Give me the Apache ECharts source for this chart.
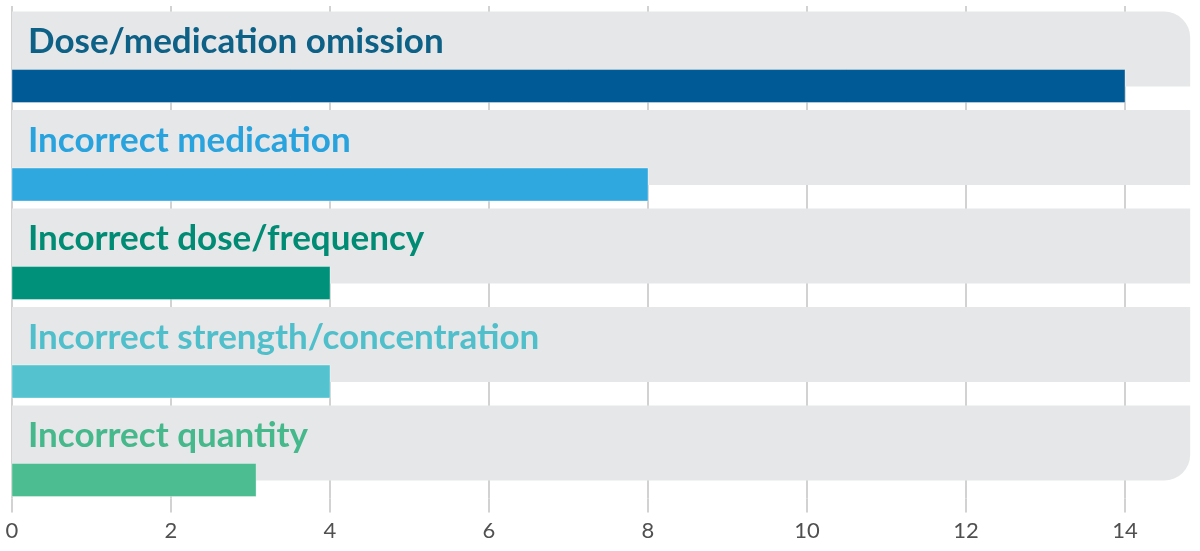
<!DOCTYPE html>
<html>
<head>
    <meta charset="UTF-8">
    <title>Medication error types</title>
</head>
<style>
    html,body{margin:0;padding:0;background:#fff;}
    #chart{width:1200px;height:551px;}
</style>
<body>
<div id="chart"></div>
<script type="text/javascript" src="https://cdn.jsdelivr.net/npm/echarts@6/dist/echarts.min.js"></script>
<script>
    // data
    var categories = ['Dose/medication omission', 'Incorrect medication', 'Incorrect dose/frequency',
        'Incorrect strength/concentration', 'Incorrect quantity'];
    var values = [14, 8, 4, 4, 3.07];
    var barColors = ['#005a96', '#2fa8e0', '#00917a', '#54c3cf', '#4cbc91'];
    var labelColors = ['#0d6086', '#29a3dd', '#008b74', '#4fbfcb', '#45b88c'];
    var tickValues = [0, 2, 4, 6, 8, 10, 12, 14];

    var panelEnd = 14.82;   // where the grey bands stop on the x scale

    var draw = echarts.init(document.getElementById('chart'));

    function renderPanel(params, api) {
        var i = api.value(1);
        var c0 = api.coord([0, i]);
        var c1 = api.coord([panelEnd, i]);
        var band = api.size([0, 1])[1];
        var top = c0[1] - band / 2;
        var r = [0, 0, 0, 0];
        if (i === 0) r = [0, 26, 0, 0];
        if (i === categories.length - 1) r = [0, 0, 26, 0];
        return {
            type: 'group',
            children: [{
                type: 'rect',
                shape: {x: c0[0], y: top + band * 0.056, width: c1[0] - c0[0], height: band * 0.762, r: r},
                style: {fill: '#e6e7e8'}
            }, {
                type: 'text',
                style: {
                    x: c0[0] + 16, y: top + band * 0.365,
                    text: categories[i],
                    fill: labelColors[i],
                    font: 'bold 35px Lato',
                    verticalAlign: 'middle'
                }
            }]
        };
    }

    function renderBar(params, api) {
        var i = api.value(1);
        var c0 = api.coord([0, i]);
        var c1 = api.coord([api.value(0), i]);
        var band = api.size([0, 1])[1];
        var top = c0[1] - band / 2;
        return {
            type: 'rect',
            shape: {x: c0[0], y: top + band * 0.645, width: c1[0] - c0[0], height: band * 0.335},
            style: {fill: barColors[i], stroke: 'rgba(255,255,255,0.35)', lineWidth: 1}
        };
    }

    var option = {
        animation: false,
        // the scale runs to 16 so 0..14 sit where the picture has them; the part past 14.82 is off-canvas
        grid: {left: 12, width: 1272, top: 6, height: 492.5, outerBoundsMode: 'none', containLabel: false},
        xAxis: {
            type: 'value',
            min: 0, max: 16, interval: 2,
            axisLine: {show: false},
            axisTick: {show: true, length: 14, lineStyle: {color: '#d2d2d2', width: 2}},
            splitLine: {show: true, lineStyle: {color: '#d2d2d2', width: 2}},
            axisLabel: {
                color: '#505050', fontSize: 22, fontFamily: 'Lato', margin: 21,
                formatter: function (v) { return tickValues.indexOf(v) >= 0 ? v : ''; }
            }
        },
        yAxis: {
            type: 'category',
            data: categories,
            inverse: true,
            show: false
        },
        series: [{
            type: 'custom',
            renderItem: renderPanel,
            data: categories.map(function (n, i) { return [panelEnd, i]; }),
            z: 1
        }, {
            type: 'custom',
            renderItem: renderBar,
            data: values.map(function (v, i) { return [v, i]; }),
            z: 2
        }]
    };
    draw.setOption(option);
</script>
</body>
</html>
